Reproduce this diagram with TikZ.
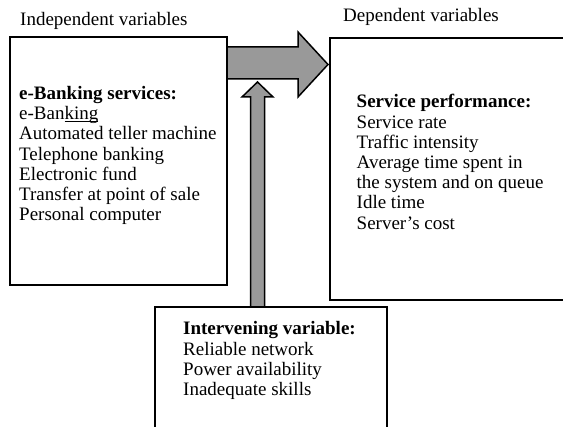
\documentclass[tikz,border=0pt]{standalone}
\usepackage{fontspec}
\setmainfont{Liberation Serif}
\usetikzlibrary{calc}
\definecolor{arrowgray}{RGB}{153,153,153}
\begin{document}
\begin{tikzpicture}[x=1pt,y=-1pt,
  box/.style={draw=black, line width=2.8pt, fill=white, rectangle,
    inner sep=0pt, outer sep=0pt, anchor=north west},
  % multi-line texts are placed by the baseline of their last line
  txt/.style={anchor=base west, inner sep=0pt, align=left,
    font=\fontsize{19}{20.2}\selectfont},
  blockarrow/.style={draw=black, line width=1.5pt, fill=arrowgray, line join=miter}]
\useasboundingbox (0,0) rectangle (563,427);
\clip (0,0) rectangle (563,427);

% the three variable boxes
\node[box, minimum width=217pt, minimum height=248pt] (indep) at (10,37) {};
\node[box, minimum width=250pt, minimum height=262pt] (dep) at (330,38) {};
\node[box, minimum width=232pt, minimum height=150pt] (interv) at (155,307) {};

% headings above the boxes
\node[txt] (indeptitle) at (20,26) {Independent variables};
\node[txt] (deptitle) at (343,22) {Dependent variables};

% box contents
\node[txt] (indeptext) at (19,220.7) {\textbf{e-Banking services:}\\
  e-Ban\underline{\smash{king}}\\
  Automated teller machine\\
  Telephone banking\\
  Electronic fund\\
  Transfer at point of sale\\
  Personal computer};
\node[txt] (deptext) at (356.5,229.2) {\textbf{Service performance:}\\
  Service rate\\
  Traffic intensity\\
  Average time spent in\\
  the system and on queue\\
  Idle time\\
  Server’s cost};
\node[txt] (intervtext) at (183,395.6) {\textbf{Intervening variable:}\\
  Reliable network\\
  Power availability\\
  Inadequate skills};

% block arrow: independent -> dependent
\draw[blockarrow] (indep.east |- 0,47) -- (298,47) -- (298,32)
  -- ($(dep.west |- 0,64.5)+(-2,0)$) -- (298,97) -- (298,79)
  -- (indep.east |- 0,79) -- cycle;

% block arrow: intervening variable -> main link
\draw[blockarrow] (250.5,0 |- interv.north) -- (250.5,97) -- (242,97)
  -- (257.5,82) -- (273,97) -- (264.5,97) -- (264.5,0 |- interv.north) -- cycle;
\end{tikzpicture}
\end{document}
